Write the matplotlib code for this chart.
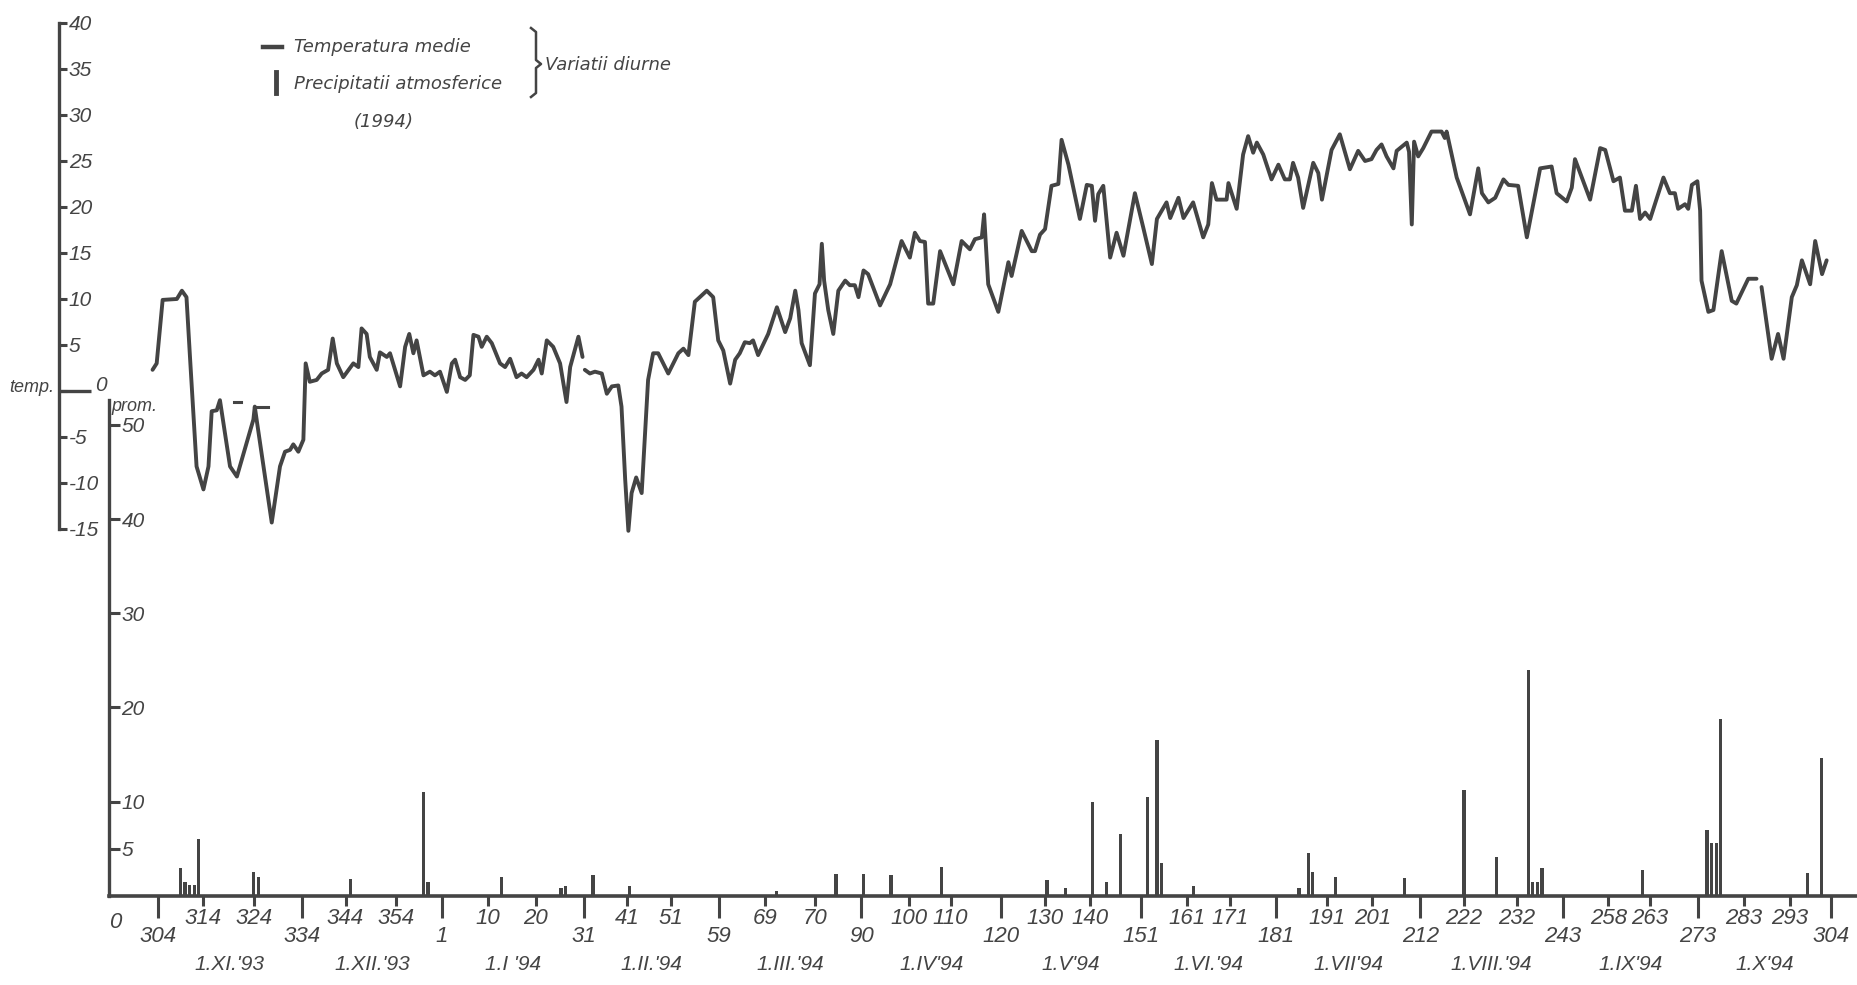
import matplotlib
matplotlib.use("Agg")
import matplotlib.pyplot as plt
from matplotlib.lines import Line2D
import numpy as np

nan = np.nan

# ---------------- data ----------------
# day index: 0 = 31.X.1993 ... 365 = 31.X.1994
temp_day = [-1.1, -0.2, 1.1, 4.2, 5.3, 6.3, 7.1, 8.5, 10.0, 11.1, 11.8, 12.9, 13.6, 15.8, 17.3,
            20.9, 21.2, 21.6, 24.9, 26.7, 27.8, 28.9, 29.6, 30.7, 31.8, 32.3, 33.2, 34.7, 35.8,
            37.2, 38.2, 39.1, 40.5, 42.7, 43.8, 44.5, 45.6, 46.3, 47.8, 48.5, 50.0, 50.7, 52.9,
            54.0, 54.9, 55.8, 56.5, 58.0, 59.4, 60.5, 61.6, 63.1, 64.2, 64.9, 66.0, 67.1, 68.1,
            68.9, 70.0, 70.7, 71.8, 72.9, 74.7, 75.8, 76.9, 78.3, 79.4, 80.5, 82.0, 83.1, 83.8,
            84.9, 86.3, 87.8, 89.2, 90.0, 91.8, 92.7, nan,
            93.2, 94.3, 95.4, 96.9, 98.0, 99.1, 100.5, 101.2, 102.0, 102.7, 103.4, 104.4, 105.6,
            107.0, 108.1, 109.2, 111.4, 113.6, 114.7, 115.8, 117.2, 119.8, 121.2, 122.3, 123.4,
            124.9, 126.0, 127.0, 128.1, 129.2, 129.9, 131.0, 133.2, 135.1, 136.9, 138.0, 139.1,
            139.8, 140.5, 142.3, 143.4, 144.4, 144.9, 145.4, 146.3, 147.4, 148.5, 150.0, 151.0,
            152.1, 152.9, 154.0, 155.0, 157.6, 159.8, 162.3, 164.1, 165.2, 166.3, 167.4, 168.1,
            169.2, 170.7, 173.6, 175.4, 177.2, 178.3, 179.8, 180.3, 181.2, 183.4, 184.5, 185.6,
            186.3, 188.5, 190.7, 191.4, 192.5, 193.6, 195.0, 196.5, 197.2, 198.7, 201.2, 202.7,
            203.8, 204.5, 205.2, 206.3, 207.8, 209.2, 210.7, 213.2, 215.0, 216.9, 218.0, 220.1,
            220.9, 222.7, 223.8, 225.9, 228.1, 229.2, 230.0, 231.0, 233.2, 233.6, 235.4, 236.8,
            237.9, 239.0, 239.8, 241.2, 243.0, 244.5, 245.9, 247.0, 247.7, 248.8, 249.9, 252.1,
            253.2, 254.0, 256.1, 257.9, 260.1, 261.9, 263.4, 264.8, 265.9, 267.0, 268.1, 269.6,
            270.3, 272.5, 273.0, 273.6, 274.1, 275.0, 276.1, 277.9, 280.1, 280.8, 281.2, 283.4,
            286.3, 288.1, 288.9, 290.3, 291.8, 293.6, 294.7, 296.8, 298.7, 301.6, 304.1, 305.2,
            307.4, 308.5, 309.2, 312.5, 314.7, 315.8, 317.6, 319.0, 320.1, 321.6, 322.5, 323.4,
            324.5, 325.6, 328.5, 329.9, 331.0, 331.7, 333.2, 333.9, 334.7, 335.9, 336.5, 336.8,
            338.3, 339.4, 341.2, 343.4, 344.4, 347.0, 348.8, nan,
            349.9, 352.1, 353.5, 354.7, 356.5, 357.6, 358.7, 360.5, 361.6, 363.1, 364.1]
temp_val = [2.3, 3.0, 9.9, 10.0, 10.9, 10.2, 3.4, -8.2, -10.7, -8.2, -2.2, -2.1, -1.0, -8.2, -9.3,
            -3.1, -1.7, -3.1, -14.3, -8.2, -6.6, -6.4, -5.8, -6.6, -5.3, 3.0, 1.0, 1.2, 1.9,
            2.3, 5.7, 3.0, 1.5, 3.0, 2.6, 6.8, 6.2, 3.7, 2.3, 4.2, 3.7, 4.1, 0.5,
            4.8, 6.2, 4.1, 5.5, 1.7, 2.1, 1.7, 2.1, -0.1, 3.0, 3.4, 1.5, 1.2, 1.7,
            6.1, 5.9, 4.8, 5.9, 5.2, 3.0, 2.6, 3.5, 1.5, 1.9, 1.5, 2.3, 3.4, 1.9,
            5.5, 4.8, 3.0, -1.2, 2.6, 5.9, 3.7, nan,
            2.3, 1.9, 2.1, 1.9, -0.3, 0.5, 0.6, -1.7, -9.6, -15.2, -11.1, -9.4, -11.1,
            1.2, 4.1, 4.1, 1.9, 4.1, 4.6, 3.9, 9.7, 10.9, 10.2, 5.5, 4.4,
            0.8, 3.4, 4.1, 5.3, 5.2, 5.5, 3.9, 6.2, 9.1, 6.4, 7.9, 10.9,
            8.8, 5.2, 2.8, 10.6, 11.6, 16.0, 12.0, 8.8, 6.2, 10.9, 12.0, 11.5,
            11.5, 10.2, 13.1, 12.7, 9.3, 11.6, 16.3, 14.5, 17.2, 16.3, 16.2, 9.5,
            9.5, 15.2, 11.6, 16.3, 15.4, 16.5, 16.7, 19.2, 11.6, 8.6, 11.3, 14.0,
            12.5, 17.4, 15.2, 15.2, 17.0, 17.6, 22.3, 22.5, 27.3, 24.6, 18.7, 22.4,
            22.3, 18.5, 21.4, 22.3, 14.5, 17.2, 14.7, 21.5, 17.8, 13.8, 18.7, 20.5,
            18.8, 21.0, 18.8, 20.5, 16.7, 18.1, 22.6, 20.8, 20.8, 22.6, 19.8, 25.7,
            27.7, 25.9, 27.0, 25.7, 23.0, 24.6, 23.0, 23.0, 24.8, 23.2, 19.9, 24.8,
            23.7, 20.8, 26.2, 27.9, 24.1, 26.1, 25.0, 25.2, 26.2, 26.8, 25.5, 24.2,
            26.1, 27.0, 26.0, 18.1, 27.1, 25.5, 26.4, 28.2, 28.2, 27.5, 28.2, 23.2,
            19.2, 24.2, 21.5, 20.5, 21.0, 23.0, 22.4, 22.3, 16.7, 24.2, 24.4, 21.5,
            20.6, 22.1, 25.2, 20.8, 26.4, 26.2, 22.8, 23.2, 19.6, 19.6, 22.3, 18.7,
            19.4, 18.7, 23.2, 21.5, 21.5, 19.8, 20.3, 19.8, 22.4, 22.8, 19.6, 12.0,
            8.6, 8.8, 15.2, 9.8, 9.5, 12.2, 12.2, nan,
            11.3, 3.5, 6.2, 3.5, 10.2, 11.5, 14.2, 11.6, 16.3, 12.7, 14.2]

# short detached strokes near the curve (late November 1993)
mark_day = [16.7, 18.2, nan, 21.2, 24.1]
mark_val = [-1.2, -1.2, nan, -1.7, -1.7]

prec_day = [5, 6, 7, 8, 9, 21, 22, 42, 58, 59, 75, 88, 89, 95, 103, 135, 148, 154, 160, 171,
            194, 198, 204, 207, 210, 216, 218, 219, 226, 249, 251, 252, 257, 272, 285, 292,
            299, 300, 301, 302, 324, 338, 339, 340, 341, 360, 363]
prec_val = [3.0, 1.5, 1.2, 1.2, 6.0, 2.5, 2.0, 1.8, 11.0, 1.5, 2.0, 0.8, 1.0, 2.2, 1.0, 0.5,
            2.3, 2.3, 2.2, 3.1, 1.7, 0.8, 10.0, 1.5, 6.6, 10.5, 16.5, 3.5, 1.0, 0.8, 4.5, 2.5,
            2.0, 1.9, 11.2, 4.1, 24.0, 1.5, 1.5, 3.0, 2.7, 7.0, 5.6, 5.6, 18.8, 2.4, 14.6]

tick_days = [0, 10, 21, 31.5, 41, 52, 62, 72, 82.5, 93, 102.5, 112, 122.5, 132.5, 143.5,
             153.5, 164, 173, 184, 193.5, 203.5, 214.5, 224.5, 234, 244, 255, 265, 275.5,
             285, 296.5, 306.5, 316.5, 325.5, 336, 346, 356, 365]
tick_labels = ['304', '314', '324', '334', '344', '354', '1', '10', '20', '31', '41', '51',
               '59', '69', '70', '90', '100', '110', '120', '130', '140', '151', '161', '171',
               '181', '191', '201', '212', '222', '232', '243', '258', '263', '273', '283',
               '293', '304']
month_end_labels = {'304', '334', '1', '31', '59', '90', '120', '151', '181', '212', '243', '273'}
month_labels = ["1.XI.'93", "1.XII.'93", "1.I '94", "1.II.'94", "1.III.'94", "1.IV'94",
                "1.V'94", "1.VI.'94", "1.VII'94", "1.VIII.'94", "1.IX'94", "1.X'94"]

temp_ticks = [-15, -10, -5, 0, 5, 10, 15, 20, 25, 30, 35, 40]
prec_ticks = [5, 10, 20, 30, 40, 50]

# ---------------- styling ----------------
INK = '#444444'
NARROW = ['Liberation Sans', 'DejaVu Sans']
WIDE = ['DejaVu Sans']

fig = plt.figure(figsize=(18.58, 9.85), dpi=100)
fig.patch.set_facecolor('white')

ax_p = fig.add_axes([0, 0, 1, 1])
ax_t = fig.add_axes([0, 0, 1, 1])
for a in (ax_p, ax_t):
    a.set_facecolor('none')
    for s in a.spines.values():
        s.set_visible(False)
    a.set_xlim(-34.38, 370.94)

ax_t.set_ylim(-64.57, 42.5)
ax_p.set_ylim(-9.46, 95.1)

T_AXIS_X = -21.46
P_AXIS_X = -10.6

# ---- temperature ----
ax_t.plot(temp_day, temp_val, color=INK, lw=2.8, solid_joinstyle='round', solid_capstyle='round')
ax_t.plot(mark_day, mark_val, color=INK, lw=2.2)

sp = ax_t.spines['right']
sp.set_visible(True)
sp.set_position(('data', T_AXIS_X))
sp.set_bounds(temp_ticks[0], temp_ticks[-1])
sp.set_linewidth(2.4)
sp.set_color(INK)
ax_t.set_xticks([])
ax_t.yaxis.set_ticks_position('right')
ax_t.set_yticks(temp_ticks, ['' if v == 0 else str(v) for v in temp_ticks])
ax_t.tick_params(axis='y', direction='out', length=6, width=2.2, pad=1, colors=INK,
                 labelsize=15)
for lab in ax_t.get_yticklabels():
    lab.set_family(NARROW)
    lab.set_style('italic')
# longer zero tick with its label, as drawn on the original
ax_t.hlines(0, T_AXIS_X, T_AXIS_X + 7.0, color=INK, lw=2.4)
ax_t.text(T_AXIS_X + 7.8, 0.6, '0', ha='left', va='center', color=INK, fontsize=15,
          style='italic', family=NARROW)
ax_t.text(T_AXIS_X - 1.2, 0.4, 'temp.', ha='right', va='center', color=INK, fontsize=13,
          style='italic', family=NARROW)

# ---- precipitation ----
ax_p.bar(prec_day, prec_val, width=0.7, color=INK, bottom=0, linewidth=0)

sp = ax_p.spines['right']
sp.set_visible(True)
sp.set_position(('data', P_AXIS_X))
sp.set_bounds(0, 52.6)
sp.set_linewidth(2.4)
sp.set_color(INK)
sb = ax_p.spines['bottom']
sb.set_visible(True)
sb.set_position(('data', 0))
sb.set_bounds(P_AXIS_X, 371)
sb.set_linewidth(2.6)
sb.set_color(INK)

ax_p.yaxis.set_ticks_position('right')
ax_p.set_yticks(prec_ticks, [str(v) for v in prec_ticks])
ax_p.tick_params(axis='y', direction='out', length=8, width=2.2, pad=1, colors=INK,
                 labelsize=15)
for lab in ax_p.get_yticklabels():
    lab.set_family(NARROW)
    lab.set_style('italic')

is_major = [(l in month_end_labels) or i == len(tick_labels) - 1 for i, l in enumerate(tick_labels)]
major_pos = [d for d, m in zip(tick_days, is_major) if m]
major_lab = [l for l, m in zip(tick_labels, is_major) if m]
minor_pos = [d for d, m in zip(tick_days, is_major) if not m]
minor_lab = [l for l, m in zip(tick_labels, is_major) if not m]

ax_p.xaxis.set_ticks_position('bottom')
ax_p.set_xticks(major_pos, major_lab)
ax_p.set_xticks(minor_pos, minor_lab, minor=True)
ax_p.tick_params(axis='x', which='major', direction='out', length=16, width=2.2, pad=6,
                 colors=INK, labelsize=16)
ax_p.tick_params(axis='x', which='minor', direction='out', length=7, width=2.2, pad=2,
                 colors=INK, labelsize=16)
for lab in ax_p.get_xticklabels(which='both'):
    lab.set_family(NARROW)
    lab.set_style('italic')

ax_p.text(P_AXIS_X + 1.3, -2.8, '0', ha='center', va='center', color=INK, fontsize=16,
          style='italic', family=NARROW)
ax_p.text(P_AXIS_X + 0.5, 52.0, 'prom.', ha='left', va='center', color=INK, fontsize=13,
          style='italic', family=NARROW)

mids = [(a + b) / 2 for a, b in zip(major_pos[:-1], major_pos[1:])]
for m, lab in zip(mids, month_labels):
    ax_p.text(m, -7.3, lab, ha='center', va='center', color=INK, fontsize=15,
              style='italic', family=NARROW)

# ---- legend (hand-drawn style) ----
W, H = 1858.0, 985.0
def fx(x):
    return x / W
def fy(y):
    return 1 - y / H

fig.add_artist(Line2D([fx(263), fx(282)], [fy(47), fy(47)], color=INK, lw=3.2))
fig.text(fx(294), fy(47), 'Temperatura medie', ha='left', va='center', color=INK,
         fontsize=13, style='italic', family=WIDE)
fig.add_artist(Line2D([fx(276), fx(276)], [fy(72), fy(93)], color=INK, lw=3.5))
fig.text(fx(294), fy(84), 'Precipitatii atmosferice', ha='left', va='center', color=INK,
         fontsize=13, style='italic', family=WIDE)
bx = [531, 536, 536, 541, 536, 536, 531]
by = [28, 32, 60, 64, 68, 93, 97]
fig.add_artist(Line2D([fx(v) for v in bx], [fy(v) for v in by], color=INK, lw=1.8))
fig.text(fx(545), fy(65), 'Variatii diurne', ha='left', va='center', color=INK,
         fontsize=13, style='italic', family=WIDE)
fig.text(fx(384), fy(122), '(1994)', ha='center', va='center', color=INK,
         fontsize=13, style='italic', family=WIDE)

fig.savefig('out.png', dpi=100, facecolor='white')
